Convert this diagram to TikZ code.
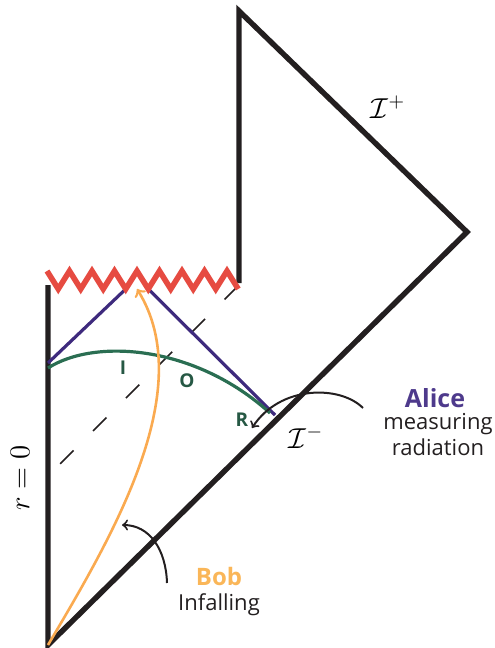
\documentclass[tikz,border=0pt]{standalone}
\usepackage{amsmath}
\usepackage{amssymb}
\usepackage{xcolor}
\usepackage{fontspec}
\newfontfamily\labfont{Open Sans}
\usepackage{tikz}
\usetikzlibrary{arrows}
\definecolor{wall}{RGB}{35,31,32}
\definecolor{singred}{RGB}{230,75,65}
\definecolor{raypurple}{RGB}{62,42,125}
\definecolor{alicepurple}{RGB}{78,58,140}
\definecolor{slicegreen}{RGB}{42,110,82}
\definecolor{labgreen}{RGB}{38,88,68}
\definecolor{bobor}{RGB}{250,170,80}
\definecolor{bobtext}{RGB}{250,182,88}

\begin{document}
\begin{tikzpicture}
	[x= 0.5pt, y= -0.5pt, >= to,
	bound/.style = {draw=wall, line width=2.7pt, line join=miter},
	sing/.style = {draw=singred, line width=2.8pt, line join=miter},
	ray/.style = {draw=raypurple, line width=1.6pt},
	slice/.style = {draw=slicegreen, line width=1.6pt},
	horizon/.style = {draw=wall, line width=0.8pt, dash pattern=on 9.5pt off 13.75pt},
	bobline/.style = {draw=bobor, line width=1.3pt, ->},
	pointer/.style = {draw=wall, line width=1pt, ->},
	region/.style = {text=labgreen, font=\labfont\bfseries\fontsize{9.5}{11}\selectfont},
	tag/.style = {text=wall, font=\labfont\fontsize{11}{12}\selectfont}]
	\useasboundingbox (0,0) rectangle (494,648);
	\coordinate (v0) at (48,645);
	\coordinate (v1) at (467,232);
	\coordinate (v2) at (239,11);
	\coordinate (v3) at (239,283);
	\coordinate (v4) at (48,285);
	\coordinate (h0) at (238,286);
	\coordinate (h1) at (59,465);
	\coordinate (s1) at (125.75,289);
	\coordinate (s2) at (148.25,289);
	\coordinate (a0) at (48,363);
	\coordinate (a1) at (275,415);
	\coordinate (g0) at (48,368);
	\coordinate (g1) at (270,413);
	\coordinate (b1) at (137,289);
	\coordinate (p0) at (363,408);
	\coordinate (p1) at (252,428);
	\coordinate (q0) at (167,583);
	\coordinate (q1) at (122,525);
	\draw[bound] (v4)--(v0)--(v1)--(v2)--(v3);
	\draw[horizon] (h0)--(h1);
	\draw[ray] (a0)--(s1);
	\draw[ray] (s2)--(a1);
	\draw[slice] (g0) .. controls (95,338) and (195,345) .. (g1);
	\draw[bobline] (v0) .. controls (110,540) and (200,390) .. (b1);
	\draw[sing] (47,271)--(58.25,289)--(69.5,271)--(80.75,289)--(92,271)--(103.25,289)
		--(114.5,271)--(125.75,289)--(137,271)--(148.25,289)--(159.5,271)--(170.75,289)
		--(182,271)--(193.25,289)--(204.5,271)--(215.75,289)--(227,271)--(238.25,289);
	\draw[pointer] (p0) .. controls (340,385) and (280,385) .. (p1);
	\draw[pointer] (q0) .. controls (166,550) and (150,525) .. (q1);
	\node[region] (i) at (123,368) {I};
	\node[region] (o) at (187,381) {O};
	\node[region] (r) at (242,420) {R};
	\node (scriplus) at (388,107) {\Large $\mathcal{I}^+$};
	\node (scriminus) at (306,437) {\Large $\mathcal{I}^-$};
	\node[rotate=90] (rzero) at (20,478) {\Large $r=0$};
	\node[text=alicepurple, font=\labfont\bfseries\fontsize{12.5}{14}\selectfont] (alice) at (435,398) {Alice};
	\node[tag] (meas) at (438,424) {measuring};
	\node[tag] (rad) at (438,447) {radiation};
	\node[text=bobtext, font=\labfont\bfseries\fontsize{12}{14}\selectfont] (bob) at (219,576) {Bob};
	\node[tag] (infall) at (219,605) {Infalling};
\end{tikzpicture}
\end{document}
